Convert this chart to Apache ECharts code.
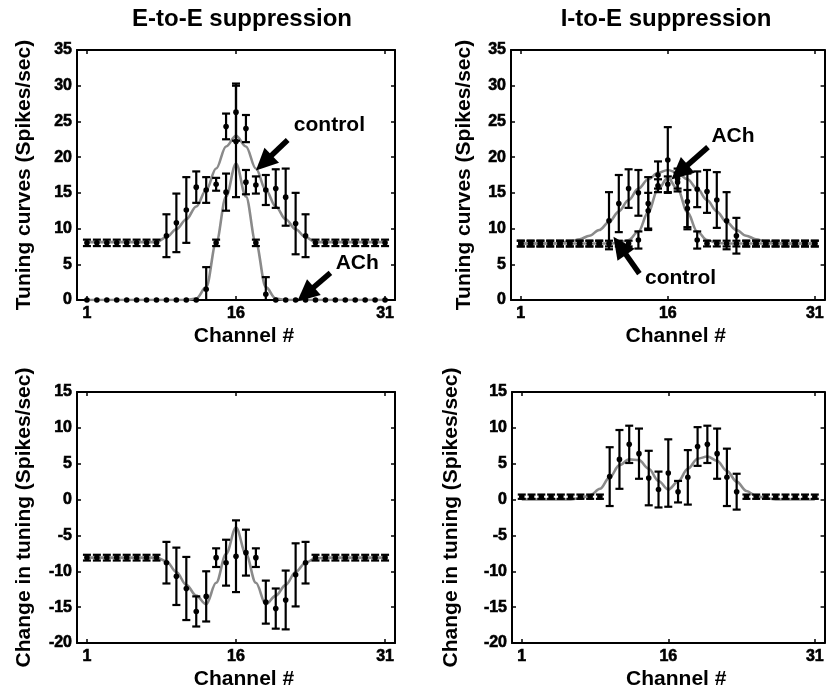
<!DOCTYPE html>
<html>
<head>
<meta charset="utf-8">
<script src="https://cdn.jsdelivr.net/npm/echarts@6/dist/echarts.min.js"></script>
<style>
html,body{margin:0;padding:0;background:#fff;}
#chart{width:827px;height:697px;}
</style>
</head>
<body>
<div id="chart"></div>
<script>
// ---------- data ----------
const channels = [1,2,3,4,5,6,7,8,9,10,11,12,13,14,15,16,17,18,19,20,21,22,23,24,25,26,27,28,29,30,31];
const xTickLabels = [1,16,31];

// E-to-E suppression: tuning curves
const eeCtrlMean = [8.0,8.0,8.0,8.0,8.0,8.0,8.0,8.0, 9.0,10.8,12.6,15.8,15.4,16.2,24.3,26.3,24.0,16.1,15.4,15.6,14.4,10.7,9.0, 8.0,8.0,8.0,8.0,8.0,8.0,8.0,8.0];
const eeCtrlErr  = [0.45,0.45,0.45,0.45,0.45,0.45,0.45,0.45, 3.0,4.1,4.6,2.2,1.8,0.9,1.8,4.0,1.9,1.2,2.1,2.7,4.0,4.3,3.0, 0.45,0.45,0.45,0.45,0.45,0.45,0.45,0.45];
const eeAchMean  = [0,0,0,0,0,0,0,0,0,0,0,0, 1.5,8.0,15.1,22.2,16.5,8.0,0.8, 0,0,0,0,0,0,0,0,0,0,0,0];
const eeAchErr   = [0,0,0,0,0,0,0,0,0,0,0,0, 3.1,0.45,2.6,7.8,1.7,0.45,2.4, 0,0,0,0,0,0,0,0,0,0,0,0];
const eeCtrlFit  = [8.1,8.1,8.1,8.1,8.1,8.1,8.1,8.1, 8.8,9.9,11.3,13.1,15.4,18.4,21.5,23.0,21.5,18.4,15.4,13.1,11.3,9.9,8.8, 8.1,8.1,8.1,8.1,8.1,8.1,8.1,8.1];
const eeAchFit   = [0,0,0,0,0,0,0,0,0,0,0, 0.2,1.8,8.0,14.5,19.1,14.5,8.0,1.8,0.2, 0,0,0,0,0,0,0,0,0,0,0];

// I-to-E suppression: tuning curves
const ieCtrlMean = [7.9,7.9,7.9,7.9,7.9,7.9,7.9,7.9,7.9,7.9,7.9,7.9, 8.4,12.5,16.0,16.2,16.5,12.8,8.4, 7.9,7.9,7.9,7.9,7.9,7.9,7.9,7.9,7.9,7.9,7.9,7.9];
const ieCtrlErr  = [0.4,0.4,0.4,0.4,0.4,0.4,0.4,0.4,0.4,0.4,0.4,0.4, 1.2,2.5,0.9,1.1,1.3,2.6,1.2, 0.4,0.4,0.4,0.4,0.4,0.4,0.4,0.4,0.4,0.4,0.4,0.4];
const ieAchMean  = [7.9,7.9,7.9,7.9,7.9,7.9,7.9,7.9,7.9, 11.1,13.5,15.6,15.0,13.5,17.5,19.6,17.0,13.8,15.5,15.2,14.0,11.1,9.0, 7.9,7.9,7.9,7.9,7.9,7.9,7.9,7.9];
const ieAchErr   = [0.4,0.4,0.4,0.4,0.4,0.4,0.4,0.4,0.4, 4.0,4.0,2.7,3.2,3.7,1.9,4.6,1.4,3.9,2.5,3.0,3.9,4.0,2.5, 0.4,0.4,0.4,0.4,0.4,0.4,0.4,0.4];
const ieCtrlFit  = [7.9,7.9,7.9,7.9,7.9,7.9,7.9,7.9,7.9,7.9, 8.0,8.4,9.6,12.3,15.5,17.1,15.5,12.3,9.6,8.4,8.0, 7.9,7.9,7.9,7.9,7.9,7.9,7.9,7.9,7.9,7.9];
const ieAchFit   = [7.9,7.9,7.9,7.9,8.0,8.2,8.5,9.0,9.8,10.9,12.4,14.0,15.6,16.9,17.8,18.2,17.8,16.9,15.6,14.0,12.4,10.9,9.8,9.0,8.5,8.2,8.0,7.9,7.9,7.9,7.9];

// Change in tuning
const eeDiffMean = [-8.1,-8.1,-8.1,-8.1,-8.1,-8.1,-8.1,-8.1, -8.8,-10.7,-12.4,-15.6,-13.5,-8.1,-8.8,-7.9,-7.4,-8.1,-14.3,-15.2,-14.0,-10.5,-8.8, -8.1,-8.1,-8.1,-8.1,-8.1,-8.1,-8.1,-8.1];
const eeDiffErr  = [0.4,0.4,0.4,0.4,0.4,0.4,0.4,0.4, 2.9,4.0,4.4,2.1,3.5,1.3,3.2,5.0,3.2,1.3,3.0,2.8,4.1,4.4,2.9, 0.4,0.4,0.4,0.4,0.4,0.4,0.4,0.4];
const eeDiffFit  = [-8.1,-8.1,-8.1,-8.1,-8.1,-8.1,-8.1,-8.1, -8.6,-10.1,-11.9,-13.4,-14.6,-11.6,-7.6,-3.9,-7.6,-11.6,-14.6,-13.4,-11.9,-10.1,-8.8, -8.2,-8.1,-8.1,-8.1,-8.1,-8.1,-8.1,-8.1];
const ieDiffMean = [0.4,0.4,0.4,0.4,0.4,0.4,0.4,0.4,0.4, 3.2,5.6,7.7,6.4,3.0,1.4,3.7,1.1,3.1,7.4,7.7,6.4,3.1,1.1, 0.4,0.4,0.4,0.4,0.4,0.4,0.4,0.4];
const ieDiffErr  = [0.3,0.3,0.3,0.3,0.3,0.3,0.3,0.3,0.3, 4.1,4.1,2.6,3.5,3.8,2.5,4.7,1.5,3.8,2.7,2.6,3.5,4.0,2.5, 0.3,0.3,0.3,0.3,0.3,0.3,0.3,0.3];
const ieDiffFit  = [0,0,0,0,0,0, 0.2,0.6,1.5,3.1,4.8,5.6,5.5,4.3,2.6,1.4,2.5,4.3,5.7,6.0,5.4,4.0,2.5,1.2,0.5,0.2, 0,0,0,0,0];

// ---------- chart ----------
const FONT = '"Liberation Sans", Arial, Helvetica, sans-serif';
const chart = echarts.init(document.getElementById('chart'), null, {renderer:'canvas'});

const grids = [
  {left:77,  top:50,  width:318, height:250},
  {left:511, top:50,  width:318, height:250},
  {left:77,  top:392, width:318, height:251},
  {left:512, top:392, width:318, height:251}
];
const yRanges = [[0,35],[0,35],[-20,15],[-20,15]];
const yNames = ['Tuning curves (Spikes/sec)','Tuning curves (Spikes/sec)','Change in tuning (Spikes/sec)','Change in tuning (Spikes/sec)'];
const yNameGaps = [42, 36, 42, 50];

const tickFont = {color:'#000', fontSize:16, fontWeight:'bold', fontFamily:FONT, textBorderColor:'#000', textBorderWidth:0.6};
const axisLineStyle = {show:true, onZero:false, lineStyle:{color:'#000', width:2}};
const xAxes = [], yAxes = [];
grids.forEach((g, i) => {
  xAxes.push({
    type:'value', gridIndex:i, min:0, max:32, position:'bottom',
    axisLine:axisLineStyle,
    axisTick:{show:true, inside:true, length:4, customValues:xTickLabels, lineStyle:{color:'#000', width:1.5}},
    axisLabel:Object.assign({show:true, customValues:xTickLabels, margin:6}, tickFont),
    splitLine:{show:false},
    name:'Channel #', nameLocation:'middle', nameGap:26,
    nameTextStyle:{color:'#000', fontSize:21, fontWeight:'bold', fontFamily:FONT, padding:[0,0,0,16]}
  });
  xAxes.push({
    type:'value', gridIndex:i, min:0, max:32, position:'top',
    axisLine:axisLineStyle,
    axisTick:{show:true, inside:true, length:4, customValues:xTickLabels, lineStyle:{color:'#000', width:1.5}},
    axisLabel:{show:false}, splitLine:{show:false}
  });
  yAxes.push({
    type:'value', gridIndex:i, min:yRanges[i][0], max:yRanges[i][1], interval:5, position:'left',
    axisLine:axisLineStyle,
    axisTick:{show:true, inside:true, length:4, lineStyle:{color:'#000', width:1.5}},
    axisLabel:Object.assign({show:true, margin:5}, tickFont),
    splitLine:{show:false},
    name:yNames[i], nameLocation:'middle', nameGap:yNameGaps[i],
    nameTextStyle:{color:'#000', fontSize:21, fontWeight:'bold', fontFamily:FONT}
  });
  yAxes.push({
    type:'value', gridIndex:i, min:yRanges[i][0], max:yRanges[i][1], interval:5, position:'right',
    axisLine:axisLineStyle,
    axisTick:{show:true, inside:true, length:4, lineStyle:{color:'#000', width:1.5}},
    axisLabel:{show:false}, splitLine:{show:false}
  });
});

function makeErr(yMin, yMax){
  return function(params, api){
    const x = api.value(0), m = api.value(1), e = api.value(2);
    const children = [];
    const st = {stroke:'#000', lineWidth:2.2};
    if (e > 0){
      const hiV = m + e, loV = m - e;
      const top = api.coord([x, Math.min(hiV, yMax)]);
      const bot = api.coord([x, Math.max(loV, yMin)]);
      const hw = 4;
      children.push({type:'line', shape:{x1:top[0], y1:top[1], x2:bot[0], y2:bot[1]}, style:st});
      if (hiV <= yMax) children.push({type:'line', shape:{x1:top[0]-hw, y1:top[1], x2:top[0]+hw, y2:top[1]}, style:st});
      if (loV >= yMin) children.push({type:'line', shape:{x1:bot[0]-hw, y1:bot[1], x2:bot[0]+hw, y2:bot[1]}, style:st});
    }
    const c = api.coord([x, m]);
    children.push({type:'circle', shape:{cx:c[0], cy:c[1], r:2.8}, style:{fill:'#000'}});
    return {type:'group', children};
  };
}

function errSeries(i, mean, err){
  return {
    type:'custom', xAxisIndex:2*i, yAxisIndex:2*i, z:4,
    renderItem:makeErr(yRanges[i][0], yRanges[i][1]),
    encode:{x:0, y:1},
    data:channels.map((c, k) => [c, mean[k], err[k]]),
    silent:true, animation:false
  };
}
function fitSeries(i, fit, extra){
  return Object.assign({
    type:'line', xAxisIndex:2*i, yAxisIndex:2*i, z:3,
    data:channels.map((c, k) => [c, fit[k]]),
    smooth:0.35, smoothMonotone:'x', showSymbol:false, symbol:'none',
    lineStyle:{color:'#8a8a8a', width:2.6},
    silent:true, animation:false
  }, extra || {});
}

const annLabel = {show:true, position:'inside', color:'#000', fontSize:21, fontWeight:'bold', fontFamily:FONT};
function arrows(lines, labels){
  return {
    markLine:{
      silent:true, animation:false,
      symbol:['none','triangle'], symbolSize:[21,22],
      lineStyle:{color:'#000', width:5.5, type:'solid'},
      label:{show:false},
      data:lines.map(l => [{coord:l[0]}, {coord:l[1]}])
    },
    markPoint:{
      silent:true, animation:false, symbol:'circle', symbolSize:0,
      itemStyle:{color:'rgba(0,0,0,0)'},
      label:annLabel,
      data:labels.map(l => ({coord:l.at, value:l.text, label:Object.assign({}, annLabel, {formatter:l.text})}))
    }
  };
}

const series = [
  fitSeries(0, eeCtrlFit, arrows(
    [[[21.2,22.4],[18.8,19.2]], [[25.5,3.8],[23.0,0.8]]],
    [{at:[25.4,24.5], text:'control'}, {at:[28.2,5.2], text:'ACh'}])),
  fitSeries(0, eeAchFit),
  errSeries(0, eeCtrlMean, eeCtrlErr),
  errSeries(0, eeAchMean, eeAchErr),

  fitSeries(1, ieAchFit, arrows(
    [[[20.1,21.4],[17.2,17.9]], [[13.1,3.7],[11.1,7.6]]],
    [{at:[22.65,22.9], text:'ACh'}, {at:[17.3,3.0], text:'control'}])),
  fitSeries(1, ieCtrlFit),
  errSeries(1, ieCtrlMean, ieCtrlErr),
  errSeries(1, ieAchMean, ieAchErr),

  fitSeries(2, eeDiffFit),
  errSeries(2, eeDiffMean, eeDiffErr),

  fitSeries(3, ieDiffFit),
  errSeries(3, ieDiffMean, ieDiffErr)
];

const titleFont = 'bold 24px ' + FONT;
chart.setOption({
  backgroundColor:'#fff',
  animation:false,
  grid:grids,
  xAxis:xAxes,
  yAxis:yAxes,
  series:series,
  graphic:[
    {type:'text', x:242, y:19, style:{text:'E-to-E suppression', font:titleFont, fill:'#000', align:'center', verticalAlign:'middle', textAlign:'center', textVerticalAlign:'middle'}},
    {type:'text', x:666, y:19, style:{text:'I-to-E suppression', font:titleFont, fill:'#000', align:'center', verticalAlign:'middle', textAlign:'center', textVerticalAlign:'middle'}}
  ]
});
</script>
</body>
</html>
